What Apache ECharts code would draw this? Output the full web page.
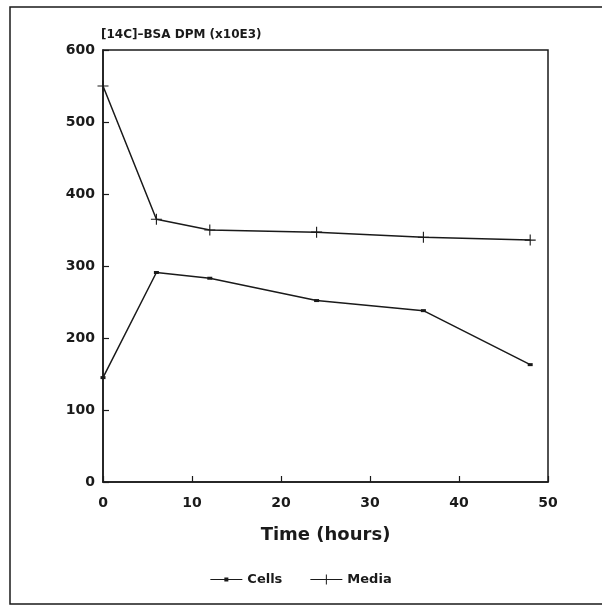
<!DOCTYPE html>
<html>
<head>
<meta charset="utf-8">
<script src="https://cdn.jsdelivr.net/npm/echarts@6/dist/echarts.min.js"></script>
<style>
  html, body { margin: 0; padding: 0; background: #fff; }
  #chart { width: 602px; height: 607px; }
</style>
</head>
<body>
<div id="chart"></div>
<script>
// Time points (hours)
var hours = [0, 6, 12, 24, 36, 48];
// [14C]-BSA DPM (x10E3)
var cells = [145, 291, 283, 252, 238, 163];
var media = [550, 365, 350, 347, 340, 336];
var xTicks = [0, 10, 20, 30, 40, 50];
var yTicks = [0, 100, 200, 300, 400, 500, 600];

var font = '"DejaVu Sans", "Liberation Sans", Arial, sans-serif';
var ink = '#1a1a1a';

function pairs(xs, ys) {
  return xs.map(function (x, i) { return [x, ys[i]]; });
}

var chart = echarts.init(document.getElementById('chart'));
chart.setOption({
  backgroundColor: '#fff',
  animation: false,
  graphic: [{
    type: 'rect',
    shape: { x: 10, y: 7, width: 600, height: 597 },
    style: { fill: 'none', stroke: ink, lineWidth: 1.5 },
    silent: true
  }],
  grid: { left: 103, right: 54, top: 50, bottom: 125, show: true,
          borderColor: ink, borderWidth: 1.5, backgroundColor: 'transparent' },
  legend: {
    bottom: 16,
    left: 'center',
    itemWidth: 32,
    itemHeight: 10,
    itemGap: 28,
    textStyle: { fontFamily: font, fontWeight: 'bold', fontSize: 13, color: ink },
    data: [
      { name: 'Cells', icon: 'path://M0,4.5 L14,4.5 L14,3 L18,3 L18,4.5 L32,4.5 L32,5.5 L18,5.5 L18,7 L14,7 L14,5.5 L0,5.5 Z' },
      { name: 'Media', icon: 'path://M0,4.5 L15.5,4.5 L15.5,0 L16.5,0 L16.5,4.5 L32,4.5 L32,5.5 L16.5,5.5 L16.5,10 L15.5,10 L15.5,5.5 L0,5.5 Z' }
    ]
  },
  xAxis: {
    type: 'value',
    min: 0, max: 50, interval: 10,
    name: 'Time (hours)',
    nameLocation: 'middle',
    nameGap: 44,
    nameTextStyle: { fontFamily: font, fontWeight: 'bold', fontSize: 18, color: ink },
    axisLine: { lineStyle: { color: ink, width: 1.5 } },
    axisTick: { inside: true, length: 6, lineStyle: { color: ink, width: 1.2 } },
    axisLabel: { fontFamily: font, fontWeight: 'bold', fontSize: 14, color: ink, margin: 14,
                 formatter: function (v) { return xTicks.indexOf(v) >= 0 ? String(v) : ''; } },
    splitLine: { show: false }
  },
  yAxis: {
    type: 'value',
    min: 0, max: 600, interval: 100,
    name: '[14C]\u2013BSA DPM (x10E3)',
    nameLocation: 'end',
    nameGap: 9,
    nameTextStyle: { fontFamily: font, fontWeight: 'bold', fontSize: 12, color: ink,
                     align: 'left', verticalAlign: 'bottom', padding: [0, 0, 0, -2] },
    axisLine: { lineStyle: { color: ink, width: 1.5 } },
    axisTick: { inside: true, length: 6, lineStyle: { color: ink, width: 1.2 } },
    axisLabel: { fontFamily: font, fontWeight: 'bold', fontSize: 14, color: ink, margin: 8,
                 formatter: function (v) { return yTicks.indexOf(v) >= 0 ? String(v) : ''; } },
    splitLine: { show: false }
  },
  series: [
    {
      name: 'Cells',
      type: 'line',
      data: pairs(hours, cells),
      symbol: 'rect',
      symbolSize: [5, 3],
      lineStyle: { color: ink, width: 1.5 },
      itemStyle: { color: ink, borderWidth: 0 },
      color: ink
    },
    {
      name: 'Media',
      type: 'line',
      data: pairs(hours, media),
      symbol: 'path://M4.5,0 L5.5,0 L5.5,4.5 L10,4.5 L10,5.5 L5.5,5.5 L5.5,10 L4.5,10 L4.5,5.5 L0,5.5 L0,4.5 L4.5,4.5 Z',
      symbolSize: 11,
      lineStyle: { color: ink, width: 1.5 },
      itemStyle: { color: ink, borderWidth: 0 },
      color: ink
    }
  ]
});
</script>
</body>
</html>
